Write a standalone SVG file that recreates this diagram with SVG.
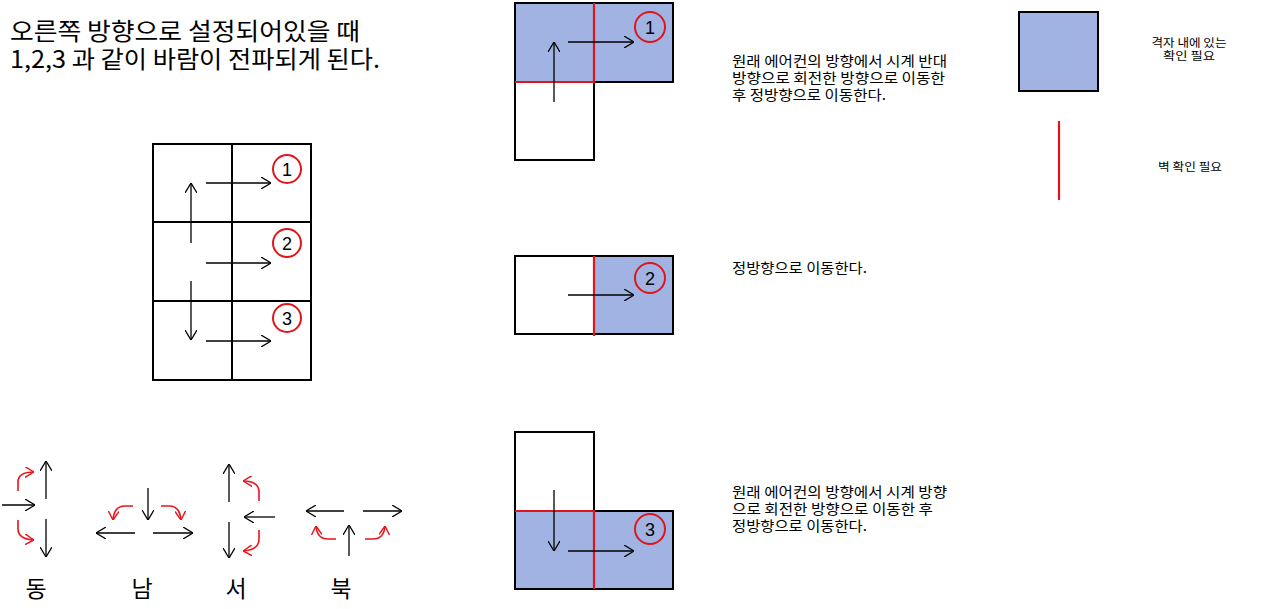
<svg xmlns="http://www.w3.org/2000/svg" width="1262" height="609" viewBox="0 0 1262 609">
<style>
text{font-family:"Malgun Gothic","Noto Sans CJK KR","Noto Sans",sans-serif;fill:#000}
.title{font-size:24px}
.desc{font-size:14px}
.leg{font-size:11.500px;text-anchor:middle}
.dir{font-size:23px;text-anchor:middle}
.num{font-size:18px;text-anchor:middle;font-family:"Liberation Sans","Noto Sans",sans-serif}
.cell{fill:none;stroke:#000;stroke-width:2}
.blue{fill:#a0b3e2;stroke:#000;stroke-width:2}
.wall{stroke:#e0151b;stroke-width:2.2;fill:none}
.ring{fill:none;stroke:#e0151b;stroke-width:2}
.arr{stroke:#000;stroke-width:1.3;fill:none;marker-end:url(#ah)}
.rarr{stroke:#e8151b;stroke-width:1.6;fill:none;marker-end:url(#rah)}
</style>
<defs>
<marker id="ah" viewBox="0 0 10 12" refX="10" refY="6" markerWidth="10" markerHeight="12" markerUnits="userSpaceOnUse" orient="auto"><path d="M0,0 L10,6 L0,12" fill="none" stroke="#000" stroke-width="1.3"/></marker>
<marker id="rah" viewBox="0 0 10 12" refX="10" refY="6" markerWidth="9" markerHeight="11" markerUnits="userSpaceOnUse" orient="auto"><path d="M0,0 L10,6 L0,12" fill="none" stroke="#e8151b" stroke-width="1.6"/></marker>
</defs>
<rect width="1262" height="609" fill="#fff"/>

<g id="title">
<text class="title" x="10" y="40" textLength="350" lengthAdjust="spacingAndGlyphs">오른쪽 방향으로 설정되어있을 때</text>
<text class="title" x="10" y="68" textLength="370" lengthAdjust="spacingAndGlyphs">1,2,3 과 같이 바람이 전파되게 된다.</text>
</g>

<g id="main-grid">
<rect class="cell" x="153" y="144" width="79" height="78"/>
<rect class="cell" x="232" y="144" width="79" height="78"/>
<rect class="cell" x="153" y="222" width="79" height="79"/>
<rect class="cell" x="232" y="222" width="79" height="79"/>
<rect class="cell" x="153" y="301" width="79" height="79"/>
<rect class="cell" x="232" y="301" width="79" height="79"/>
<circle class="ring" cx="287" cy="169" r="14"/><text class="num" x="287" y="175.500">1</text>
<circle class="ring" cx="287" cy="243" r="14"/><text class="num" x="287" y="249.500">2</text>
<circle class="ring" cx="287" cy="318" r="14"/><text class="num" x="287" y="324.500">3</text>
</g>

<g id="case1">
<rect class="blue" x="515" y="3" width="158" height="79"/>
<rect class="cell" x="515" y="82" width="79" height="78"/>
<path class="wall" d="M594,3 V82 M515,82 H595"/>
<circle class="ring" cx="650" cy="27" r="15"/><text class="num" x="650" y="34">1</text>
</g>

<g id="case2">
<rect class="cell" x="515" y="256" width="79" height="78"/>
<rect class="blue" x="594" y="256" width="79" height="78"/>
<path class="wall" d="M594,256 V336"/>
<circle class="ring" cx="650" cy="278" r="15"/><text class="num" x="650" y="285">2</text>
</g>

<g id="case3">
<rect class="cell" x="515" y="432" width="79" height="79"/>
<rect class="blue" x="515" y="511" width="158" height="78"/>
<path class="wall" d="M515,511 H595 M594,511 V589"/>
<circle class="ring" cx="650" cy="529" r="15"/><text class="num" x="650" y="536">3</text>
</g>

<g id="descriptions">
<text class="desc" x="732" y="66" textLength="215" lengthAdjust="spacingAndGlyphs">원래 에어컨의 방향에서 시계 반대</text>
<text class="desc" x="732" y="83" textLength="213" lengthAdjust="spacingAndGlyphs">방향으로 회전한 방향으로 이동한</text>
<text class="desc" x="732" y="100" textLength="154" lengthAdjust="spacingAndGlyphs">후 정방향으로 이동한다.</text>
<text class="desc" x="732" y="273" textLength="135" lengthAdjust="spacingAndGlyphs">정방향으로 이동한다.</text>
<text class="desc" x="732" y="497" textLength="215" lengthAdjust="spacingAndGlyphs">원래 에어컨의 방향에서 시계 방향</text>
<text class="desc" x="732" y="514" textLength="201" lengthAdjust="spacingAndGlyphs">으로 회전한 방향으로 이동한 후</text>
<text class="desc" x="732" y="531" textLength="135" lengthAdjust="spacingAndGlyphs">정방향으로 이동한다.</text>
</g>

<g id="legend">
<rect class="blue" x="1019" y="12" width="79" height="79"/>
<text class="leg" x="1189" y="47" textLength="75" lengthAdjust="spacingAndGlyphs">격자 내에 있는</text>
<text class="leg" x="1189" y="60" textLength="52" lengthAdjust="spacingAndGlyphs">확인 필요</text>
<path class="wall" d="M1059,121 V200"/>
<text class="leg" x="1190" y="171" textLength="64" lengthAdjust="spacingAndGlyphs">벽 확인 필요</text>
</g>

<g id="direction-labels">
<text class="dir" x="36" y="597">동</text>
<text class="dir" x="142" y="597">남</text>
<text class="dir" x="236" y="597">서</text>
<text class="dir" x="341" y="597">북</text>
</g>

<g id="connectors">
<path class="arr" d="M191,243 V183"/>
<path class="arr" d="M191,281 V340"/>
<path class="arr" d="M206,183 H271"/>
<path class="arr" d="M206,263 H271"/>
<path class="arr" d="M206,341 H271"/>
<path class="arr" d="M554,102 V42"/>
<path class="arr" d="M568,42 H634"/>
<path class="arr" d="M568,295 H634"/>
<path class="arr" d="M554,490 V551"/>
<path class="arr" d="M568,551 H634"/>
<path class="arr" d="M2,505 H35"/>
<path class="arr" d="M46,499 V461"/>
<path class="arr" d="M46,519 V557"/>
<path class="rarr" d="M18,491 V482 Q18,472 34,472"/>
<path class="rarr" d="M18,520 V529 Q18,539 34,540"/>
<path class="arr" d="M148,488 V520"/>
<path class="arr" d="M135,533 H96"/>
<path class="arr" d="M153,533 H193"/>
<path class="rarr" d="M133,506 H125 Q114,506 113,520"/>
<path class="rarr" d="M161,506 H169 Q180,506 181,520"/>
<path class="arr" d="M229,502 V464"/>
<path class="arr" d="M229,522 V558"/>
<path class="arr" d="M275,517 H244"/>
<path class="rarr" d="M259,501 V492 Q259,481 243,481"/>
<path class="rarr" d="M259,530 V539 Q259,550 243,551"/>
<path class="arr" d="M344,511 H306"/>
<path class="arr" d="M363,511 H402"/>
<path class="arr" d="M349,556 V525"/>
<path class="rarr" d="M336,539 H328 Q317,539 316,526"/>
<path class="rarr" d="M365,539 H373 Q384,539 385,526"/>
</g>
</svg>
